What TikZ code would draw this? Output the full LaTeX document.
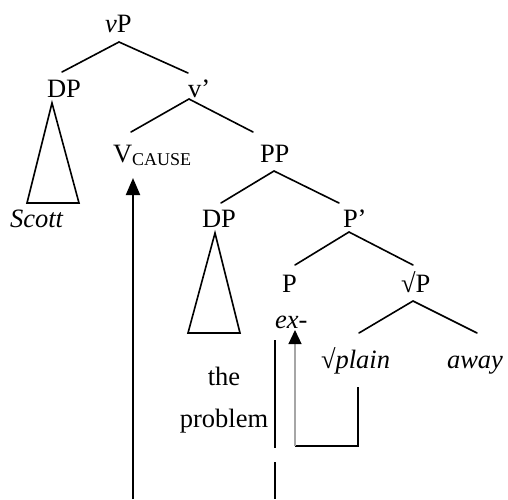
\documentclass[tikz,border=0pt]{standalone}
\usepackage{fontspec}
\setmainfont{Liberation Serif}
\usetikzlibrary{arrows.meta}
\begin{document}
\begin{tikzpicture}[x=1pt,y=-1pt,
  lbl/.style={inner sep=0pt, outer sep=0pt, font=\fontsize{26.5}{30}\selectfont},
  br/.style={line width=1.6pt, line cap=round},
  tri/.style={line width=1.6pt, line join=miter},
  mv/.style={line width=2pt},
  bigtip/.style={-{Triangle[length=17pt,width=14pt]}},
  smalltip/.style={-{Triangle[length=14pt,width=13pt,color=black]}}]
\useasboundingbox (0,0) rectangle (508,499);
% labels
\node[lbl, anchor=base west] (vP) at (105,32) {\textit{v}P};
\node[lbl, anchor=base west] (DPa) at (47,97) {DP};
\node[lbl, anchor=base west] (vbar) at (188,97) {v’};
\node[lbl, anchor=base west] (scott) at (10,227) {\textit{Scott}};
\node[lbl, anchor=base west] (vcause) at (113,162) {V\raisebox{-3pt}{\fontsize{18}{20}\selectfont CAUSE}};
\node[lbl, anchor=base west] (PP) at (260,162) {PP};
\node[lbl, anchor=base west] (DPb) at (202,227) {DP};
\node[lbl, anchor=base west] (Pbar) at (343,227) {P’};
\node[lbl, anchor=base west] (P) at (282,292) {P};
\node[lbl, anchor=base west] (rootP) at (401,292) {√P};
\node[lbl, anchor=base west] (ex) at (275,328) {\textit{ex-}};
\node[lbl, anchor=base] (the) at (224,385) {the};
\node[lbl, anchor=base] (problem) at (224,427) {problem};
\node[lbl, anchor=base west] (plain) at (321,368) {√\textit{plain}};
\node[lbl, anchor=base west] (away) at (447,368) {\textit{away}};
% branch points
\coordinate (vPt) at (119,42);
\coordinate (vPl) at (62,72);
\coordinate (vPr) at (188,73);
\coordinate (vbt) at (189,99);
\coordinate (vbl) at (131,132);
\coordinate (vbr) at (253,132);
\coordinate (PPt) at (274,171);
\coordinate (PPl) at (221,203);
\coordinate (PPr) at (339,203);
\coordinate (Pbt) at (349,232);
\coordinate (Pbl) at (295,265);
\coordinate (Pbr) at (413,265);
\coordinate (rPt) at (413,301);
\coordinate (rPl) at (359,333);
\coordinate (rPr) at (477,333);
\draw[br] (vPl) -- (vPt) -- (vPr);
\draw[br] (vbl) -- (vbt) -- (vbr);
\draw[br] (PPl) -- (PPt) -- (PPr);
\draw[br] (Pbl) -- (Pbt) -- (Pbr);
\draw[br] (rPl) -- (rPt) -- (rPr);
% triangles
\coordinate (t1a) at (52,103);
\coordinate (t1l) at (27,203);
\coordinate (t1r) at (79,203);
\draw[tri] (t1a) -- (t1l) -- (t1r) -- cycle;
\coordinate (t2a) at (215,233);
\coordinate (t2l) at (188,333);
\coordinate (t2r) at (240,333);
\draw[tri] (t2a) -- (t2l) -- (t2r) -- cycle;
% movement arrows
\coordinate (a1s) at (133,499);
\coordinate (a1e) at (133,178);
\draw[mv, bigtip] (a1s) -- (a1e);
\coordinate (l1a) at (275,340);
\coordinate (l1b) at (275,448);
\coordinate (l1c) at (275,462);
\coordinate (l1d) at (275,499);
\draw[mv] (l1a) -- (l1b);
\draw[mv] (l1c) -- (l1d);
\coordinate (a2a) at (358,387);
\coordinate (a2b) at (358,446);
\coordinate (a2c) at (295,446);
\coordinate (a2d) at (295,330);
\draw[mv, line join=miter] (a2a) -- (a2b) -- (a2c);
\draw[line width=1.2pt, draw=gray!70, smalltip] (a2c) -- (a2d);
\end{tikzpicture}
\end{document}
